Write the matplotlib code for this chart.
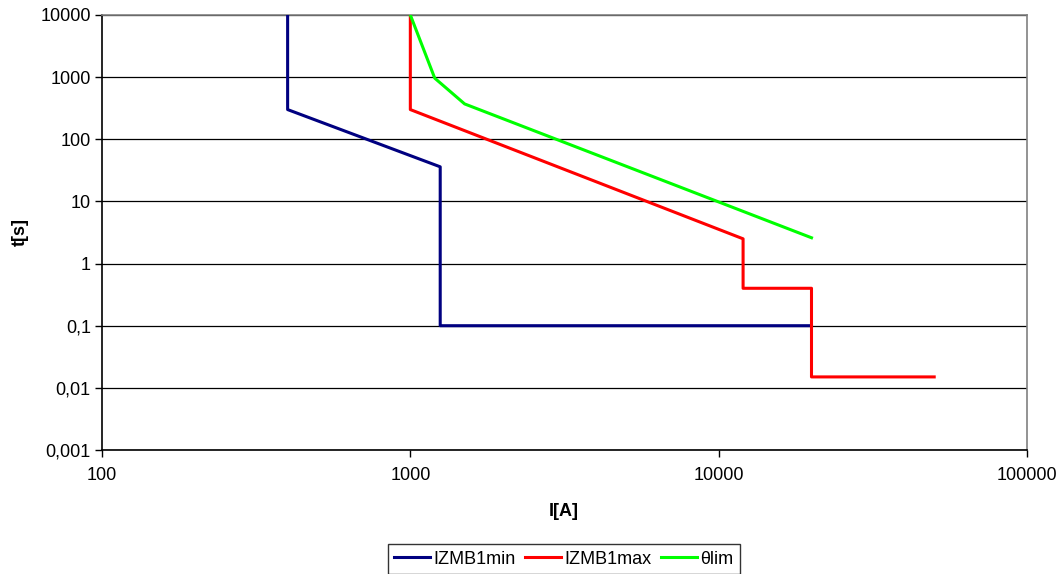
import numpy as np
import matplotlib
matplotlib.use("Agg")
import matplotlib.pyplot as plt
from matplotlib.ticker import FixedLocator, NullLocator

plt.rcParams['font.family'] = ['Liberation Sans', 'DejaVu Sans']

# current [A] / time [s] breakpoints of each characteristic
izmb_min_i = [400, 400, 1250, 1250, 20000]
izmb_min_t = [10000, 300, 36, 0.1, 0.1]

izmb_max_i = [1000, 1000, 12000, 12000, 20000, 20000, 50000]
izmb_max_t = [10000, 300, 2.5, 0.4, 0.4, 0.015, 0.015]

theta_lim_i = [1000, 1200, 1500, 20000]
theta_lim_t = [10000, 960, 370, 2.6]

x_ticks = [100, 1000, 10000, 100000]
x_tick_labels = ['100', '1000', '10000', '100000']
y_ticks = [0.001, 0.01, 0.1, 1, 10, 100, 1000, 10000]
y_tick_labels = ['0,001', '0,01', '0,1', '1', '10', '100', '1000', '10000']

fig = plt.figure(figsize=(10.59, 5.74), dpi=100)
ax = fig.add_axes([0.0963, 0.216, 0.8735, 0.758])

ax.plot(izmb_min_i, izmb_min_t, color='#000080', lw=2.2, label='IZMB1min', zorder=3)
ax.plot(izmb_max_i, izmb_max_t, color='#ff0000', lw=2.2, label='IZMB1max', zorder=3)
ax.plot(theta_lim_i, theta_lim_t, color='#00ff00', lw=2.2, label='θlim', zorder=3)

ax.set_xscale('log')
ax.set_yscale('log')
ax.set_xlim(100, 100000)
ax.set_ylim(0.001, 10000)

ax.xaxis.set_major_locator(FixedLocator(x_ticks))
ax.xaxis.set_minor_locator(NullLocator())
ax.set_xticklabels(x_tick_labels)
ax.yaxis.set_major_locator(FixedLocator(y_ticks))
ax.yaxis.set_minor_locator(NullLocator())
ax.set_yticklabels(y_tick_labels)

ax.tick_params(axis='both', labelsize=13, length=5, width=1, color='black')
ax.tick_params(axis='x', pad=7)
ax.tick_params(axis='y', pad=3)
ax.grid(axis='y', color='black', lw=0.9)

for side in ['left', 'bottom']:
    ax.spines[side].set_color('black')
    ax.spines[side].set_linewidth(1.2)
for side in ['top', 'right']:
    ax.spines[side].set_color('#808080')
    ax.spines[side].set_linewidth(1.2)

# axis titles placed in figure pixels
fig.text(20 / 1059, 1 - 232 / 574, 't[s]', rotation=90, ha='center', va='center',
         fontsize=13, fontweight='bold')
fig.text(564 / 1059, 1 - 511 / 574, 'I[A]', ha='center', va='center',
         fontsize=13, fontweight='bold')

leg = fig.legend(loc='lower center', bbox_to_anchor=(0.5324, 0.0), ncol=3,
                 fontsize=13, frameon=True, fancybox=False, edgecolor='black',
                 handlelength=2.0, handletextpad=0.2, columnspacing=0.5,
                 borderpad=0.35, borderaxespad=0.0)
leg.get_frame().set_linewidth(1.0)

fig.savefig('out.png', dpi=100)
